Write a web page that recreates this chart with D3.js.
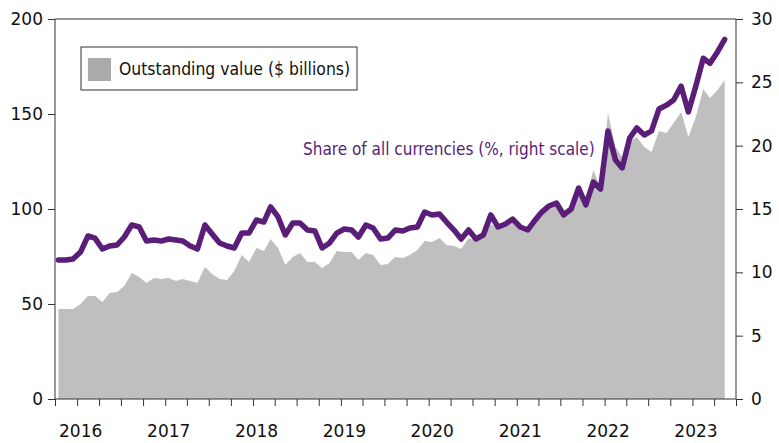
<!DOCTYPE html>
<html>
<head>
<meta charset="utf-8">
<script src="https://cdn.jsdelivr.net/npm/d3@7/dist/d3.min.js"></script>
<style>
  body { margin: 0; background: #fff; }
  svg text { font-family: "DejaVu Sans", sans-serif; }
</style>
</head>
<body>
<div id="chart"></div>
<script>
// monthly data, Oct 2015 .. May 2023
var startMonth = [2015, 9];   // year, month index (0 = Jan)

// outstanding value, $ billions (left scale)
var outstanding = [
  47.4, 47.4, 47.4, 50.0, 54.2, 54.2, 51.0, 55.8, 56.3, 59.5,
  66.3, 64.2, 61.0, 63.7, 63.2, 63.7, 62.1, 63.2, 62.1, 61.0,
  69.5, 65.8, 63.2, 62.6, 67.4, 75.8, 72.1, 79.5, 77.9, 84.2,
  79.5, 70.5, 74.7, 76.8, 72.1, 72.1, 68.9, 71.6, 77.9, 77.4,
  77.4, 73.2, 76.8, 75.8, 70.5, 71.1, 74.7, 74.2, 75.8, 78.4,
  83.2, 82.6, 84.7, 81.1, 80.5, 78.9, 84.7, 83.2, 84.7, 92.1,
  89.5, 90.5, 93.2, 88.9, 87.4, 92.1, 96.8, 100.0, 101.6, 95.8,
  98.4, 108.9, 104.7, 120.5, 111.0, 150.5, 132.6, 127.4, 135.8, 137.9,
  132.6, 130.0, 141.0, 140.0, 145.3, 151.0, 137.9, 148.4, 163.2, 158.4,
  162.6, 167.9
];

// share of all currencies, % (right scale)
var share = [
  10.97, 10.97, 11.05, 11.6, 12.87, 12.7, 11.84, 12.08, 12.16, 12.79,
  13.74, 13.58, 12.47, 12.55, 12.47, 12.63, 12.55, 12.47, 12.08, 11.84,
  13.74, 13.03, 12.32, 12.08, 11.92, 13.1, 13.1, 14.13, 13.97, 15.16,
  14.37, 12.95, 13.9, 13.9, 13.34, 13.26, 11.92, 12.32, 13.1, 13.42,
  13.34, 12.79, 13.74, 13.5, 12.63, 12.71, 13.34, 13.26, 13.5, 13.58,
  14.76, 14.53, 14.6, 13.97, 13.34, 12.63, 13.34, 12.63, 12.95, 14.53,
  13.58, 13.82, 14.21, 13.58, 13.34, 14.05, 14.76, 15.24, 15.47, 14.53,
  15.0, 16.66, 15.32, 17.13, 16.58, 21.16, 18.87, 18.24, 20.6, 21.4,
  20.84, 21.16, 22.9, 23.2, 23.6, 24.7, 22.66, 24.7, 26.9, 26.5,
  27.4, 28.4
];

var leftTicks = [0, 50, 100, 150, 200];
var rightTicks = [0, 5, 10, 15, 20, 25, 30];
var years = [2016, 2017, 2018, 2019, 2020, 2021, 2022, 2023];

var legendLabel = "Outstanding value ($ billions)";
var lineLabel = "Share of all currencies (%, right scale)";

var width = 779, height = 443;
var margin = {top: 19, right: 43, bottom: 44, left: 55};
var innerW = width - margin.left - margin.right;
var innerH = height - margin.top - margin.bottom;

var purple = "#5a1e79";
var axisColor = "#333";

var dates = outstanding.map(function(d, i) {
  return new Date(startMonth[0], startMonth[1] + i, 15);
});

var svg = d3.select("#chart").append("svg")
  .attr("width", width)
  .attr("height", height);

var g = svg.append("g")
  .attr("transform", "translate(" + margin.left + "," + margin.top + ")");

var x = d3.scaleTime()
  .domain([new Date(2015, 9, 1), new Date(2023, 6, 1)])
  .range([0, innerW]);

var yLeft = d3.scaleLinear().domain([0, 200]).range([innerH, 0]);
var yRight = d3.scaleLinear().domain([0, 30]).range([innerH, 0]);

// gray area
var area = d3.area()
  .x(function(d, i) { return x(dates[i]); })
  .y0(innerH)
  .y1(function(d) { return yLeft(d); });

g.append("path")
  .datum(outstanding)
  .attr("fill", "#bfbfbf")
  .attr("d", area);

// purple line
var line = d3.line()
  .x(function(d, i) { return x(dates[i]); })
  .y(function(d) { return yRight(d); });

g.append("path")
  .datum(share)
  .attr("fill", "none")
  .attr("stroke", purple)
  .attr("stroke-width", 5.5)
  .attr("stroke-linejoin", "round")
  .attr("stroke-linecap", "round")
  .attr("d", line);

// frame top
g.append("line")
  .attr("x1", 0).attr("x2", innerW)
  .attr("y1", 0).attr("y2", 0)
  .attr("stroke", axisColor);

// axes
var leftAxis = d3.axisLeft(yLeft).tickValues(leftTicks).tickSize(7).tickPadding(5);
var rightAxis = d3.axisRight(yRight).tickValues(rightTicks).tickSize(7).tickPadding(8);
var bottomAxis = d3.axisBottom(x)
  .ticks(d3.timeMonth.every(3))
  .tickSize(7)
  .tickPadding(19)
  .tickFormat(function(d) {
    return (d.getMonth() === 0 && years.indexOf(d.getFullYear()) >= 0) ? d.getFullYear() : "";
  });

function styleAxis(sel) {
  sel.selectAll(".domain").attr("stroke", axisColor);
  sel.selectAll(".tick line").attr("stroke", axisColor);
  sel.selectAll("text")
    .attr("fill", "#111")
    .style("font-size", "17px")
    .style("font-family", "'DejaVu Sans', sans-serif");
}

g.append("g").call(leftAxis).call(styleAxis)
  .select(".domain").attr("d", "M0," + innerH + "V0");
g.append("g").attr("transform", "translate(" + innerW + ",0)").call(rightAxis).call(styleAxis)
  .select(".domain").attr("d", "M0," + innerH + "V0");
var bx = g.append("g").attr("transform", "translate(0," + innerH + ")").call(bottomAxis).call(styleAxis);
bx.select(".domain").attr("d", "M0,0H" + innerW);
bx.selectAll(".tick text").attr("dx", 3);

// legend
var legend = svg.append("g").attr("transform", "translate(81,47)");
legend.append("rect")
  .attr("width", 276).attr("height", 43)
  .attr("fill", "#fff")
  .attr("stroke", axisColor);
legend.append("rect")
  .attr("x", 7).attr("y", 11)
  .attr("width", 23).attr("height", 23)
  .attr("fill", "#aaaaaa");
legend.append("text")
  .attr("x", 38).attr("y", 28)
  .style("font-family", "'DejaVu Sans Condensed', 'DejaVu Sans', sans-serif")
  .style("font-size", "17.4px")
  .attr("fill", "#111")
  .text(legendLabel);

// line label
svg.append("text")
  .attr("x", 303).attr("y", 155)
  .style("font-family", "'DejaVu Sans Condensed', 'DejaVu Sans', sans-serif")
  .style("font-size", "17px")
  .attr("fill", purple)
  .text(lineLabel);
</script>
</body>
</html>
